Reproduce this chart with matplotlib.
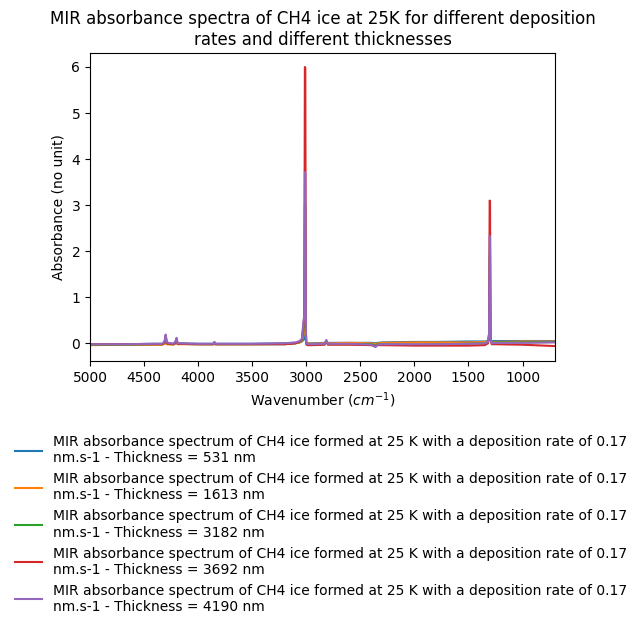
import matplotlib
matplotlib.use("Agg")
import matplotlib.pyplot as plt

# wavenumber grid (cm-1)
wavenumber = [5000, 4700, 4400, 4330, 4310, 4300, 4290, 4230, 4210, 4200, 4190,
              4000, 3860, 3850, 3840, 3500, 3200, 3100, 3060, 3040, 3025, 3018,
              3013, 3009, 3004, 3000, 2990, 2950, 2830, 2815, 2800, 2600, 2400, 2360,
              2340, 2300, 2000, 1800, 1500, 1350, 1320, 1310, 1304, 1301, 1296, 1285,
              1250, 1000, 700]

thick_531 = [-0.02, -0.02, -0.01, -0.01, 0.0, 0.02, 0.0, -0.01, 0.0, 0.01, 0.0,
             -0.01, -0.01, 0.0, -0.01, -0.01, 0.0, 0.01, 0.02, 0.04, 0.08, 0.1,
             0.5, 0.5, 0.06, 0.01, 0.0, 0.0, 0.01, 0.02, 0.01, 0.01, 0.01, 0.0,
             0.01, 0.02, 0.03, 0.03, 0.04, 0.04, 0.05, 0.08, 0.35, 0.35, 0.07, 0.05,
             0.05, 0.05, 0.05]
thick_1613 = [-0.04, -0.03, -0.03, -0.03, -0.01, 0.05, -0.02, -0.03, -0.01, 0.03, -0.02,
              -0.02, -0.02, 0.0, -0.02, -0.02, -0.01, 0.0, 0.02, 0.05, 0.2, 0.25,
              1.6, 1.6, 0.15, 0.01, 0.0, -0.01, 0.0, 0.03, 0.0, 0.01, 0.0, -0.02,
              0.0, 0.01, 0.02, 0.02, 0.02, 0.03, 0.04, 0.1, 1.1, 1.1, 0.06, 0.03,
              0.03, 0.04, 0.04]
thick_3182 = [-0.03, -0.03, -0.02, -0.02, 0.02, 0.12, 0.0, -0.02, 0.01, 0.08, -0.01,
              -0.02, -0.02, 0.02, -0.02, -0.02, -0.02, 0.0, 0.03, 0.07, 0.35, 0.45,
              3.0, 3.0, 0.25, -0.01, -0.03, -0.03, -0.02, 0.05, -0.02, -0.02, -0.02, -0.05,
              -0.02, -0.02, -0.03, -0.02, -0.01, 0.0, 0.02, 0.15, 1.9, 1.9, 0.08, 0.01,
              0.02, 0.02, 0.03]
thick_3692 = [-0.02, -0.02, -0.02, -0.02, 0.03, 0.17, 0.0, -0.02, 0.02, 0.1, -0.01,
              -0.02, -0.02, 0.02, -0.02, -0.02, -0.02, 0.0, 0.04, 0.09, 0.45, 0.55,
              6.0, 5.98, 0.3, -0.02, -0.04, -0.04, -0.03, 0.06, -0.03, -0.03, -0.04, -0.07,
              -0.04, -0.04, -0.05, -0.05, -0.05, -0.04, 0.0, 0.2, 3.1, 3.08, 0.08, -0.02,
              -0.02, -0.03, -0.06]
thick_4190 = [-0.02, -0.02, -0.01, -0.01, 0.05, 0.19, 0.02, -0.01, 0.04, 0.12, 0.0,
              -0.01, -0.01, 0.03, -0.01, -0.01, 0.0, 0.02, 0.05, 0.1, 0.5, 0.6,
              3.72, 3.7, 0.3, 0.0, -0.02, -0.02, -0.01, 0.07, -0.01, -0.01, -0.03, -0.08,
              -0.03, -0.02, -0.02, -0.02, -0.01, 0.0, 0.03, 0.2, 2.33, 2.31, 0.1, 0.0,
              0.01, 0.01, 0.02]

thicknesses = [531, 1613, 3182, 3692, 4190]
spectra = [thick_531, thick_1613, thick_3182, thick_3692, thick_4190]

fig = plt.figure(figsize=(6.44, 6.29), dpi=100)
ax = fig.add_axes([90 / 644, 1 - 361 / 629, 465 / 644, 308 / 629])

for t, s in zip(thicknesses, spectra):
    label = ("MIR absorbance spectrum of CH4 ice formed at 25 K with a deposition rate of 0.17\n"
             "nm.s-1 - Thickness = %d nm" % t)
    ax.plot(wavenumber, s, label=label)

ax.set_xlim(5000, 700)
ax.set_xlabel("Wavenumber ($cm^{-1}$)")
ax.set_ylabel("Absorbance (no unit)")
ax.set_title("MIR absorbance spectra of CH4 ice at 25K for different deposition\n"
             "rates and different thicknesses")
ax.legend(loc="upper center", bbox_to_anchor=(0.497, -0.2), frameon=False)

plt.savefig("out.png", dpi=100)
